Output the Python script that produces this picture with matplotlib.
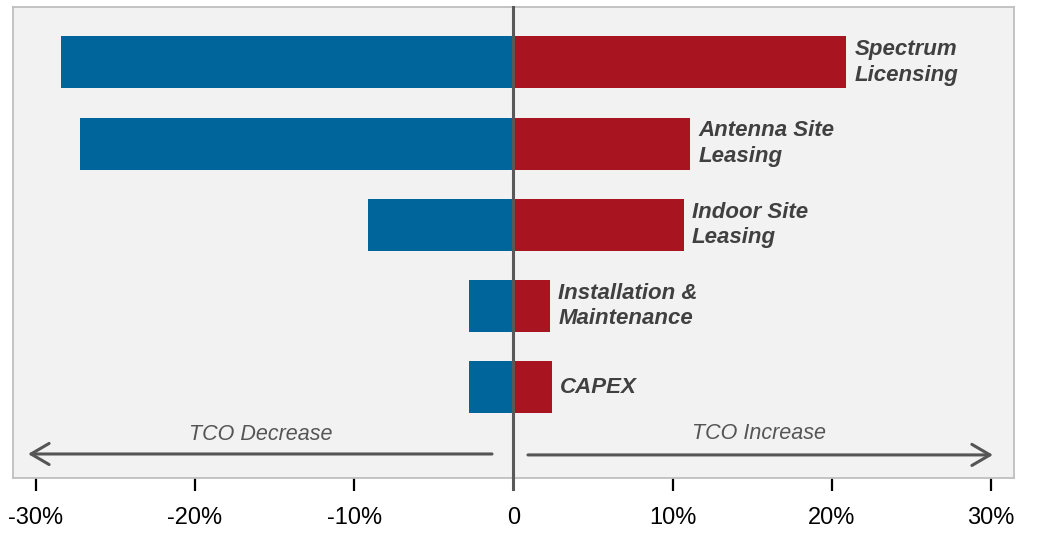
import matplotlib
matplotlib.use('Agg')
import matplotlib.pyplot as plt
from matplotlib import font_manager

# data (percent change of TCO)
categories = ['Spectrum\nLicensing', 'Antenna Site\nLeasing', 'Indoor Site\nLeasing',
              'Installation &\nMaintenance', 'CAPEX']
decrease = [-28.4, -27.2, -9.1, -2.8, -2.8]
increase = [20.9, 11.1, 10.7, 2.3, 2.4]
tick_vals = [-30, -20, -10, 0, 10, 20, 30]
tick_labels = ['-30%', '-20%', '-10%', '0', '10%', '20%', '30%']

BLUE = '#00659A'
RED = '#A81521'
TXT = '#404040'

installed = {f.name for f in font_manager.fontManager.ttflist}
if 'Liberation Sans Narrow' in installed:
    tick_font, tick_size = 'Liberation Sans Narrow', 19.5
else:
    tick_font, tick_size = 'Liberation Sans', 17

plt.rcParams['font.family'] = ['Liberation Sans', 'DejaVu Sans']

fig = plt.figure(figsize=(10.44, 5.36), dpi=100)
ax = fig.add_axes([12.7 / 1044, 1 - 478 / 536, 1001.3 / 1044, 471 / 536])
ax.set_facecolor('#F2F2F2')

ypos = list(range(len(categories)))
ax.barh(ypos, decrease, height=0.64, color=BLUE, zorder=2)
ax.barh(ypos, increase, height=0.64, color=RED, zorder=2)

for y, v, lab in zip(ypos, increase, categories):
    ax.annotate(lab, (v, y), xytext=(6, 0), textcoords='offset points',
                ha='left', va='center', fontsize=16, fontweight='bold',
                fontstyle='italic', color=TXT, linespacing=1.28)

ax.set_xlim(-31.45, 31.45)
ax.set_ylim(5.117, -0.683)

# zero line
ax.axvline(0, ymin=-0.023, ymax=1, color='#595959', lw=2.2, zorder=3, clip_on=False)

# direction arrows
arrow_kw = dict(arrowstyle='->,head_length=0.65,head_width=0.38', color='#555555',
                lw=2.2, mutation_scale=20, shrinkA=0, shrinkB=0)
ax.annotate('', xy=(0.0153, 0.051), xytext=(0.4787, 0.051), xycoords='axes fraction',
            arrowprops=arrow_kw)
ax.annotate('', xy=(0.979, 0.049), xytext=(0.5146, 0.049), xycoords='axes fraction',
            arrowprops=arrow_kw)
ax.text(0.248, 0.093, 'TCO Decrease', transform=ax.transAxes, ha='center', va='center',
        fontsize=15.5, fontstyle='italic', color='#555555')
ax.text(0.745, 0.095, 'TCO Increase', transform=ax.transAxes, ha='center', va='center',
        fontsize=15.5, fontstyle='italic', color='#555555')

ax.set_yticks([])
ax.set_xticks(tick_vals)
ax.set_xticklabels(tick_labels, fontfamily=tick_font, fontsize=tick_size, color='black')
ax.tick_params(axis='x', direction='out', length=9, width=1.6, color='black', pad=12)
ax.xaxis.get_major_ticks()[3].tick1line.set_visible(False)

for s in ax.spines.values():
    s.set_color('#BFBFBF')
    s.set_linewidth(1.3)

fig.savefig('out.png', dpi=100, facecolor='white')
